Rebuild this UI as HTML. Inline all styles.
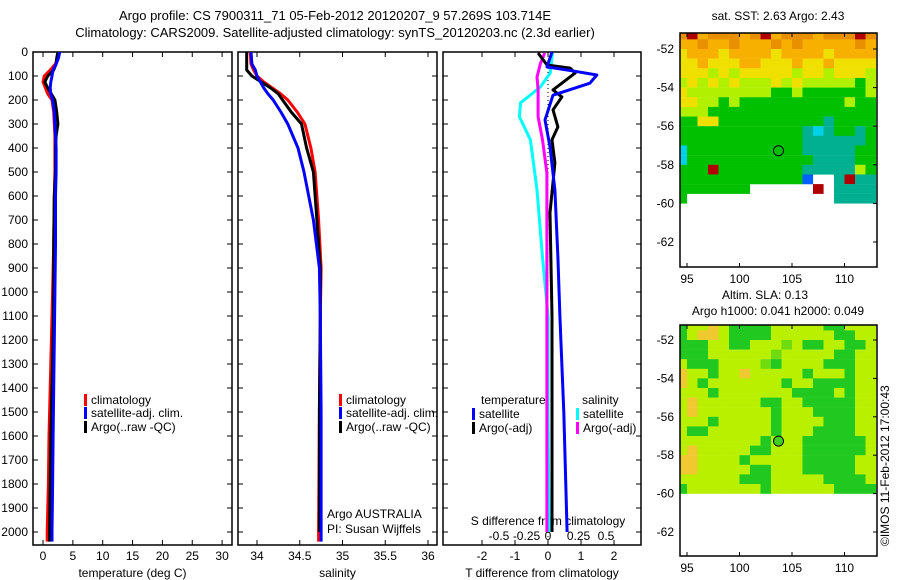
<!DOCTYPE html>
<html><head><meta charset="utf-8">
<style>
html,body{margin:0;padding:0;background:#fff;}
svg{display:block;font-family:"Liberation Sans",sans-serif;}
text{font-size:12px;fill:#000;}
</style></head>
<body>
<svg id="fig" width="900" height="580" viewBox="0 0 900 580" xmlns="http://www.w3.org/2000/svg">
<text x="335" y="20" text-anchor="middle" style="font-size:13px">Argo profile: CS 7900311_71 05-Feb-2012 20120207_9 57.269S 103.714E</text>
<text x="335" y="37" text-anchor="middle" style="font-size:13px">Climatology: CARS2009. Satellite-adjusted climatology: synTS_20120203.nc (2.3d earlier)</text>
<g id="g"></g>
</svg>
<script>
// ---- data ----
const tDepth=[0,25,50,75,100,125,150,175,200,250,300,350,400,500,600,800,1000,1200,1400,1600,1800,2000,2040];
const tClim=[2.6,2.4,2.1,1.2,0.2,0.0,0.4,0.8,1.5,1.8,1.9,2.0,2.0,2.0,1.9,1.8,1.6,1.4,1.2,1.0,0.9,0.7,0.7];
const tSat=[2.8,2.6,2.2,1.7,1.5,1.3,1.2,1.3,1.6,1.9,2.0,2.1,2.2,2.2,2.1,2.1,2.0,1.9,1.8,1.7,1.6,1.5,1.5];
const tArgo=[2.5,2.3,2.2,1.8,0.8,0.3,0.8,1.4,2.0,2.3,2.5,2.2,2.1,2.1,1.9,1.8,1.8,1.7,1.5,1.3,1.2,1.1,1.1];
const sDepth=[0,50,75,100,125,150,175,200,250,300,400,500,700,900,1100,1500,2000,2040];
const sClim=[33.92,33.93,33.96,34.0,34.08,34.18,34.28,34.36,34.47,34.56,34.63,34.68,34.72,34.75,34.74,34.73,34.72,34.72];
const sSat=[33.93,33.94,33.98,34.0,34.04,34.08,34.13,34.19,34.28,34.36,34.48,34.55,34.66,34.73,34.74,34.75,34.75,34.75];
const sArgo=[33.88,33.88,33.88,33.94,34.05,34.16,34.25,34.3,34.4,34.52,34.58,34.66,34.70,34.74,34.74,34.73,34.73];
const dtSatDepth=[0,62,80,96,130,180,283,395,575,855,1100,1500,2000];
const dtSat=[0.12,-0.03,0.8,1.48,1.27,0.15,-0.09,0.06,0.21,0.30,0.36,0.48,0.58];
const dtArgoDepth=[4,54,67,88,158,187,241,312,366,462,670,1100,1500,2000];
const dtArgo=[-0.3,-0.03,0.67,0.82,0.15,0.42,0.15,0.3,0.12,0.21,0.06,0.12,0.12,0.12];
const dsSatDepth=[4,88,146,212,270,366,575,855,1100,1500,2000];
const dsSat=[0.04,0.02,-0.07,-0.25,-0.26,-0.16,-0.1,-0.05,0,0.0,0.01];
const dsArgoDepth=[4,50,104,158,270,366,504,783,1100,2000];
const dsArgo=[-0.03,-0.07,-0.1,-0.09,-0.09,-0.05,-0.01,-0.01,-0.01,-0.01];
const depthTicks=[0,100,200,300,400,500,600,700,800,900,1000,1100,1200,1300,1400,1500,1600,1700,1800,1900,2000];
const tTicks=[0,5,10,15,20,25,30];
const sTicks=[34,34.5,35,35.5,36];
const dtTicks=[-2,-1,0,1,2];
const dsTicks=[-0.5,-0.25,0,0.25,0.5];
const lonTicks=[95,100,105,110];
const latTicks=[-52,-54,-56,-58,-60,-62];
const sstGrid=[
"8978887897888788898","7787787778787777787","6777677776777767777","6676667766676676666",
"6665656666656656665","5656565556565555535","6555555553353333335","6655353333333333533",
"5553333333333333333","3366333333333323333","3333333333332123323","3333333333332222223",
"1333333333332222233","1333333333333222233","3339333333332222253","3333333333330..2922",
"3333333......9.2222","3..............2222"];
const slaGrid=[
"3556533335555533555","3566533335555553355","3335533555453355335","3335555554555553355",
"5333555543555533355","6553556555553555355","6535555555355333355","5553555555533335355",
"5655555533553333355","5655555553555333355","5553555553555533355","5335555553555333355",
"5555555535553333335","5655555335553333335","6655553555553333355","6655555335553333355",
"5555553335555533335","3555555535555553333"];
const sstColors={"0":"#0060ff","1":"#00d0e8","2":"#00b090","3":"#00c000","4":"#60dc00","5":"#b0f000","6":"#f0e000","7":"#f8b000","8":"#e89000","9":"#b00000"};
const slaColors={"3":"#20c820","4":"#70dc10","5":"#b8f000","6":"#f0c830"};

const NS="http://www.w3.org/2000/svg";
const G=document.getElementById('g');
function mk(tag,at,parent){const e=document.createElementNS(NS,tag);for(const k in at)e.setAttribute(k,at[k]);(parent||G).appendChild(e);return e;}
function txt(x,y,s,anchor,parent){const e=mk('text',{x:x,y:y,'text-anchor':anchor||'start'},parent);e.textContent=s;return e;}
const yD=d=>52+d*0.24;
const TOP=52,BOT=545;
const panels=[
 {name:'temperature-panel',l:33,r:232,x:v=>43+v*5.97,ticks:tTicks,title:'temperature (deg C)'},
 {name:'salinity-panel',l:238,r:437,x:v=>257+(v-34)*85.5,ticks:sTicks,title:'salinity'},
 {name:'difference-panel',l:443,r:641,x:v=>548+v*33,ticks:dtTicks,title:'T difference from climatology'}];
const xS=v=>548+v*110;
panels.forEach((p,i)=>{
 const g=mk('g',{});
 
 
 const fr=mk('rect',{x:p.l,y:TOP,width:p.r-p.l,height:BOT-TOP,fill:'none',stroke:'#000','stroke-width':1.5},g);
 
 
 depthTicks.forEach(d=>{mk('line',{x1:p.l,x2:p.l+5,y1:yD(d),y2:yD(d),stroke:'#000'},g);mk('line',{x1:p.r-5,x2:p.r,y1:yD(d),y2:yD(d),stroke:'#000'},g);});
 p.ticks.forEach(v=>{const x=p.x(v);mk('line',{x1:x,x2:x,y1:TOP,y2:TOP+5,stroke:'#000'},g);mk('line',{x1:x,x2:x,y1:BOT-5,y2:BOT,stroke:'#000'},g);
  const t=txt(x,560,String(v),'middle',g);});
 const at=txt((p.l+p.r)/2,577,p.title,'middle',g);
 
 
});
depthTicks.forEach(d=>{const t=txt(28,yD(d)+4,String(d),'end');
 
 });
const zl=mk('line',{x1:548,x2:548,y1:yD(0),y2:yD(2040),stroke:'#000','stroke-dasharray':'1,3'});


dsTicks.forEach(v=>{const t=txt(xS(v)+(v<0?6:v>0?3:0),540,String(v),'middle');
 
 });
const st=txt(548,525,'S difference from climatology','middle');


function line(depths,vals,xf,color,name){
 const pts=depths.map((d,i)=>xf(vals[i]).toFixed(1)+','+yD(d).toFixed(1)).join(' ');
 const e=mk('polyline',{points:pts,fill:'none',stroke:color,'stroke-width':3,'stroke-linejoin':'round'});
 
 
}
const px=panels.map(p=>p.x);
line(tDepth,tClim,px[0],'#ff0000','temp-climatology-line');
line(tDepth,tArgo,px[0],'#000000','temp-argo-line');
line(tDepth,tSat,px[0],'#0000ff','temp-satellite-line');
line(sDepth,sClim,px[1],'#ff0000','sal-climatology-line');
line(sDepth,sArgo,px[1],'#000000','sal-argo-line');
line(sDepth,sSat,px[1],'#0000ff','sal-satellite-line');
line(dsSatDepth,dsSat,xS,'#00ffff','sdiff-satellite-line');
line(dsArgoDepth,dsArgo,xS,'#ff00ff','sdiff-argo-line');
line(dtArgoDepth,dtArgo,px[2],'#000000','tdiff-argo-line');
line(dtSatDepth,dtSat,px[2],'#0000ff','tdiff-satellite-line');
function leg(x,y,color,label){const g=mk('g',{});
 
 
 mk('rect',{x:x,y:y-10,width:3,height:12,fill:color},g);txt(x+7,y,label,'start',g);}
[84,339].forEach(x=>{leg(x,404,'#ff0000','climatology');leg(x,417,'#0000ff','satellite-adj. clim.');leg(x,431,'#000000','Argo(..raw -QC)');});
txt(481,404,'temperature');txt(582,404,'salinity');
leg(472,418,'#0000ff','satellite');leg(472,432,'#000000','Argo(-adj)');
leg(576,418,'#00ffff','satellite');leg(576,432,'#ff00ff','Argo(-adj)');
const a1=txt(327,518,'Argo AUSTRALIA');
const a2=txt(327,533,'PI: Susan Wijffels');
const lonX=lon=>687+(lon-95)*10.5;
function map(name,top,bot,latY,grid,colors){
 const g=mk('g',{});
 
 
 const cid=name+'-clip';
 const cp=mk('clipPath',{id:cid},g);mk('rect',{x:680,y:top,width:197,height:bot-top},cp);
 const cg=mk('g',{'clip-path':'url(#'+cid+')'},g);
 grid.forEach((row,r)=>{const la=-51-0.5*r;
  for(let c=0;c<row.length;c++){const ch=row[c];if(!colors[ch])continue;
   const cell=mk('rect',{x:lonX(94+c),y:latY(la),width:10.6,height:9.8,fill:colors[ch]},cg);
   
   }});
 const ac=mk('circle',{cx:lonX(103.714),cy:latY(-57.269),r:5,fill:name==='sla-map'?'#40d020':'none',stroke:'#000'},g);
 
 
 mk('rect',{x:680,y:top,width:197,height:bot-top,fill:'none',stroke:'#000','stroke-width':1.5},g);
 lonTicks.forEach(v=>{mk('line',{x1:lonX(v),x2:lonX(v),y1:bot-4,y2:bot,stroke:'#000'},g);mk('line',{x1:lonX(v),x2:lonX(v),y1:top,y2:top+4,stroke:'#000'},g);
  const t=txt(lonX(v),bot+16,String(v),'middle',g);});
 latTicks.forEach(v=>{mk('line',{x1:873,x2:877,y1:latY(v),y2:latY(v),stroke:'#000'},g);
  const t=txt(674,latY(v)+4,String(v),'end',g);});
}
map('sst-map',33,267,la=>49+(-52-la)*19.3,sstGrid,sstColors);
map('sla-map',325,556,la=>340+(-52-la)*19.2,slaGrid,slaColors);
const t1=txt(778,20,'sat. SST: 2.63 Argo: 2.43','middle');
const t2=txt(765,299,'Altim. SLA: 0.13','middle');
const t3=txt(778,315,'Argo h1000: 0.041 h2000: 0.049','middle');
const cr=txt(0,0,'©IMOS 11-Feb-2012 17:00:43','start');
cr.setAttribute('transform','translate(889,546) rotate(-90)');


</script>
</body></html>
